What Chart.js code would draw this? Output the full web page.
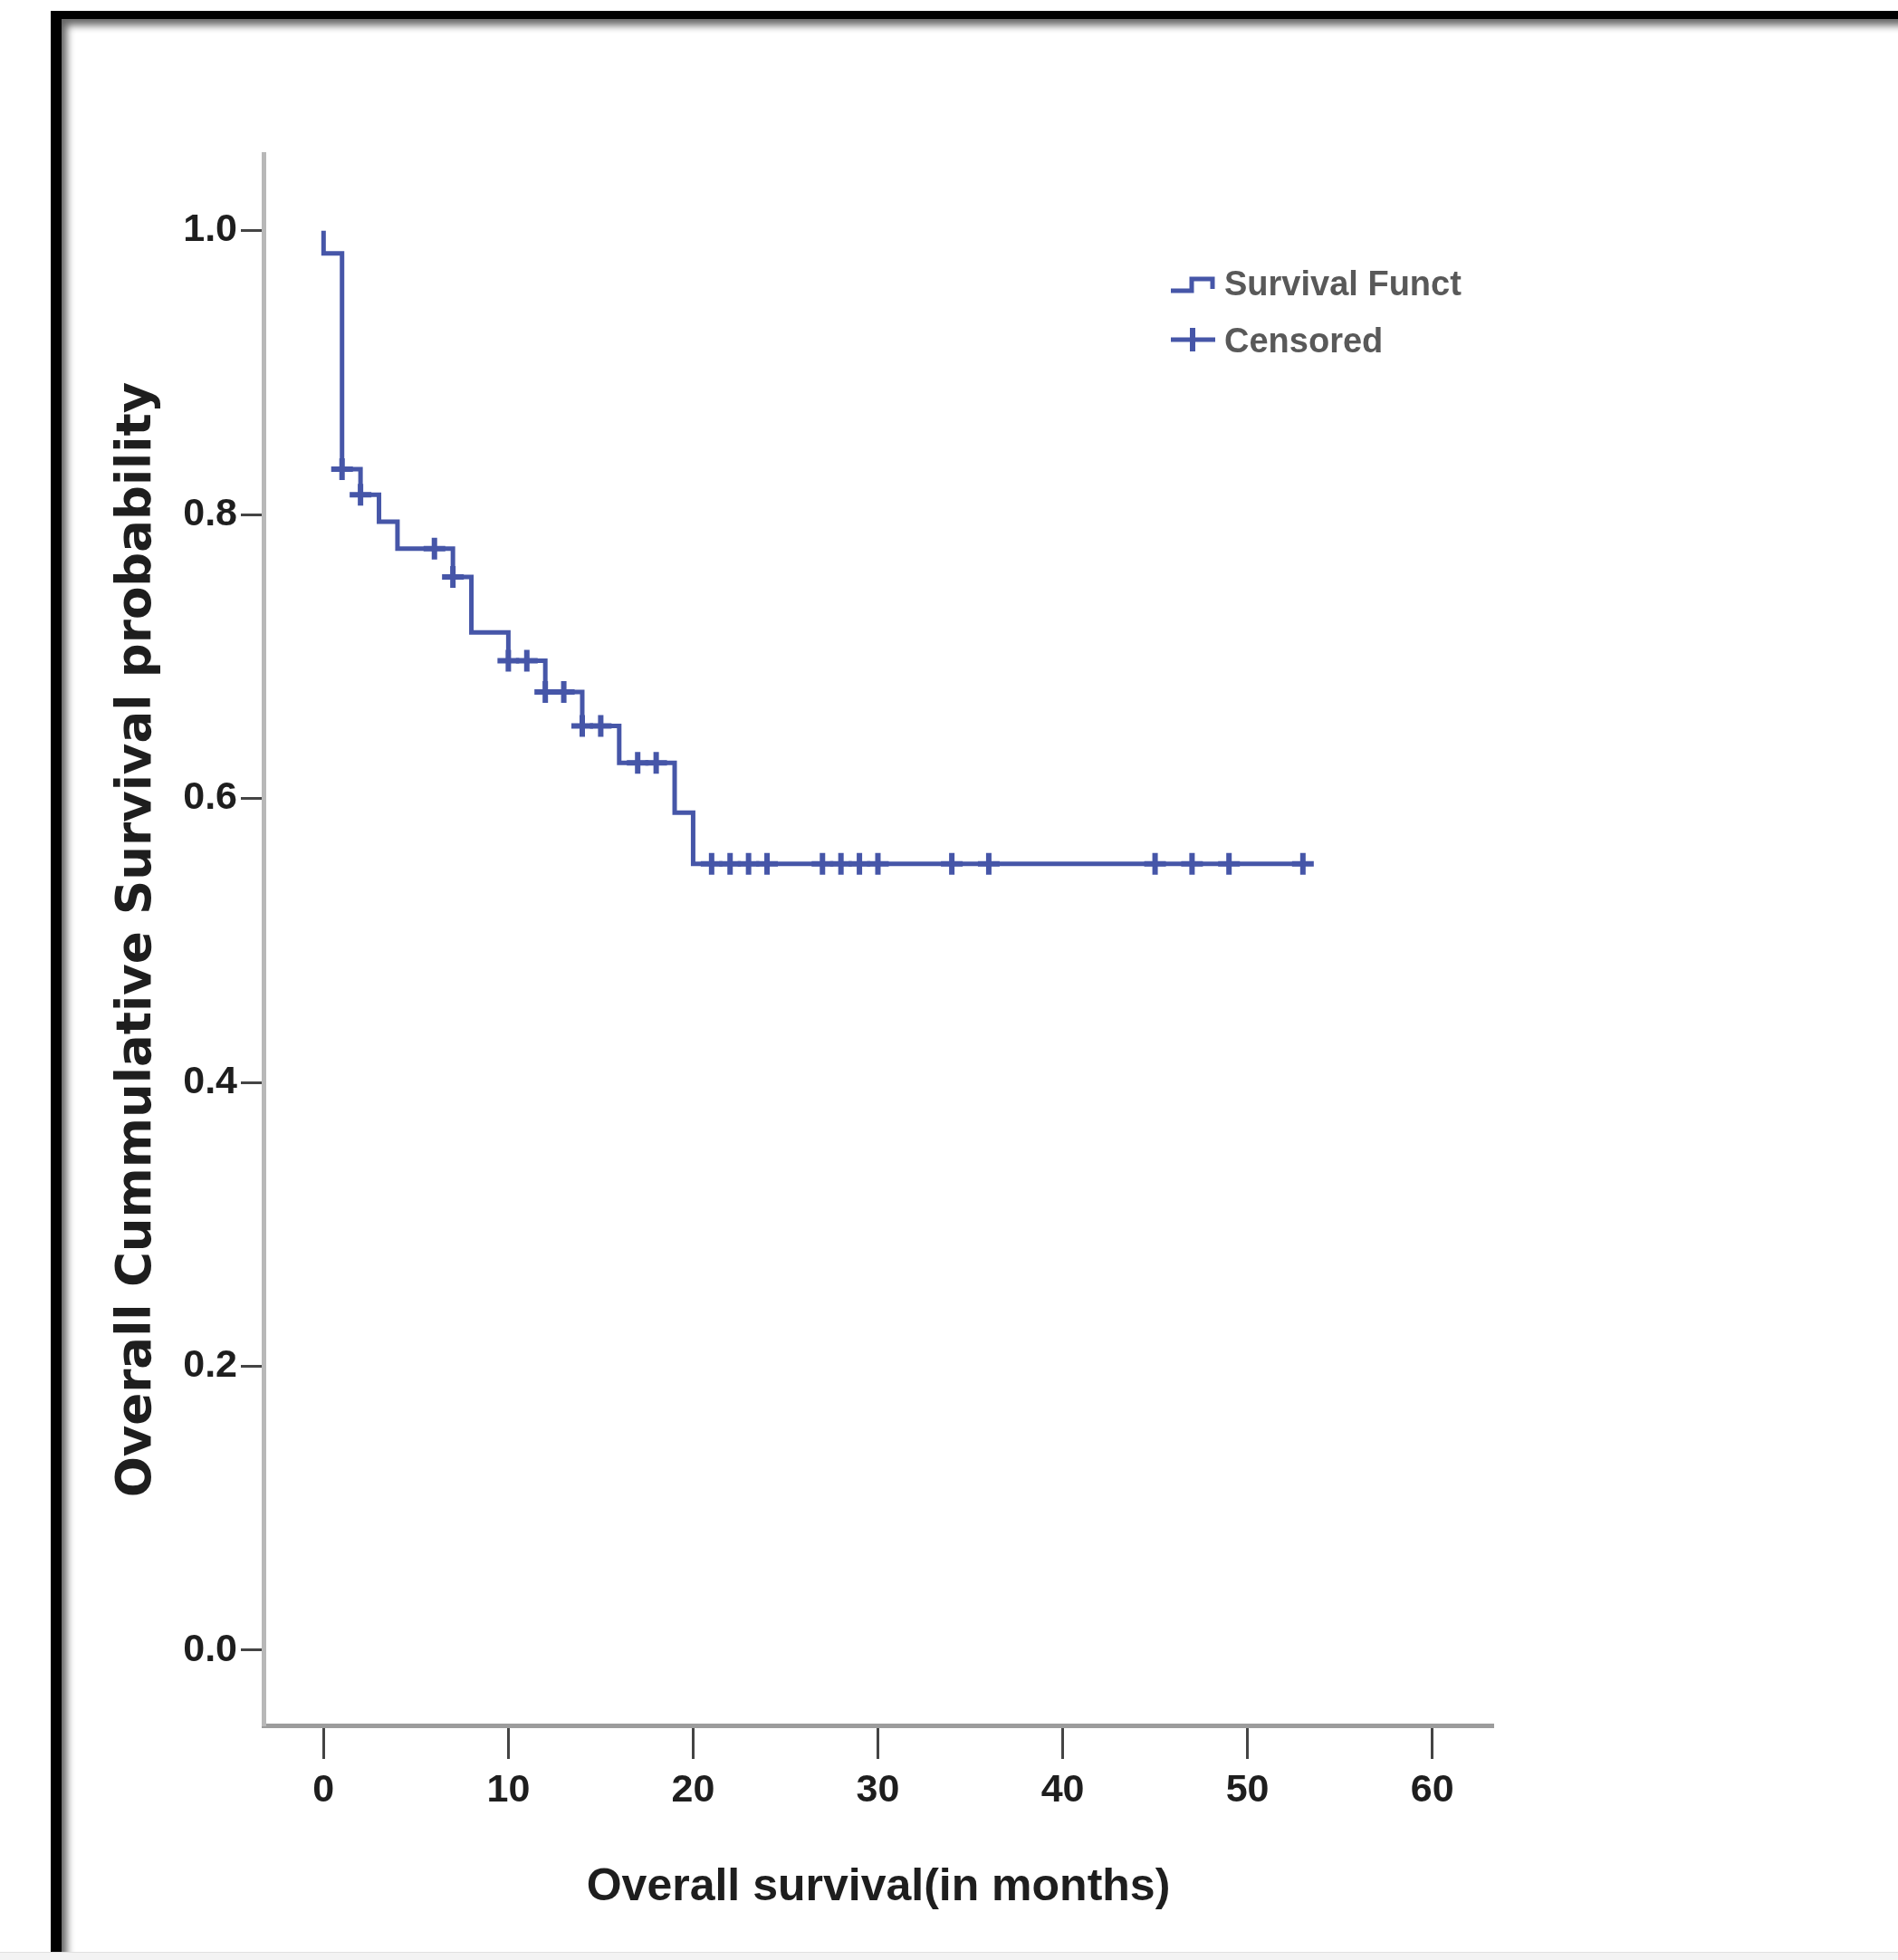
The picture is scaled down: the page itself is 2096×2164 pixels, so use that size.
<!DOCTYPE html>
<html lang="en">
<head>
<meta charset="UTF-8">
<title>Overall survival</title>
<script src="https://cdn.jsdelivr.net/npm/chart.js"></script>
<style>
  html, body { margin: 0; padding: 0; background: #fff; }
  body { width: 2096px; height: 2164px; position: relative; overflow: hidden; }
  #frame {
    position: absolute; left: 56px; top: 12px; width: 2200px; height: 2400px;
    border-left: 12px solid #000; border-top: 9px solid #000;
    box-shadow: inset 9px 10px 8px -3px rgba(0,0,0,0.6);
  }
  #bottom { position: absolute; left: 0; top: 2155px; width: 2096px; height: 9px; background: #f3f3f3; border-top: 1px solid #e0e0e0; }
  #km { position: absolute; left: 0; top: 0; }
</style>
</head>
<body>
<div id="frame"></div>
<div id="bottom"></div>
<canvas id="km" width="2096" height="2164"></canvas>
<script>
// Kaplan-Meier steps (time in months, survival after the event)
const stepTimes    = [0, 0, 1, 2, 3, 4, 7, 8, 10, 12, 14, 16, 19, 20, 53];
const stepSurvival = [1.0, 0.984, 0.832, 0.814, 0.795, 0.776, 0.756, 0.717, 0.697, 0.675, 0.651, 0.625, 0.590, 0.554, 0.554];

// censored cases (+ marks)
const censorTimes    = [1, 2, 6, 7, 10, 11, 12, 13, 14, 15, 17, 18, 21, 22, 23, 24, 27, 28, 29, 30, 34, 36, 45, 47, 49, 53];
const censorSurvival = [0.832, 0.814, 0.776, 0.756, 0.697, 0.697, 0.675, 0.675, 0.651, 0.651, 0.625, 0.625,
                        0.554, 0.554, 0.554, 0.554, 0.554, 0.554, 0.554, 0.554, 0.554, 0.554, 0.554, 0.554, 0.554, 0.554];

const xTicks = [0, 10, 20, 30, 40, 50, 60];
const yTicks = [0.0, 0.2, 0.4, 0.6, 0.8, 1.0];
const legendLabels = ['Survival Funct', 'Censored'];

const blue = '#4656a8';
const sans = "'Liberation Sans', Arial, sans-serif";

// legend drawn inside the plot, like the SPSS output
const kmLegend = {
    id: 'kmLegend',
    afterDraw(chart) {
        const ctx = chart.ctx;
        ctx.save();
        ctx.strokeStyle = blue;
        ctx.lineWidth = 5;
        // step glyph
        ctx.beginPath();
        ctx.moveTo(1293, 321);
        ctx.lineTo(1316, 321);
        ctx.lineTo(1316, 308);
        ctx.lineTo(1339, 308);
        ctx.lineTo(1339, 319);
        ctx.stroke();
        // censored glyph
        ctx.beginPath();
        ctx.moveTo(1293, 375);
        ctx.lineTo(1342, 375);
        ctx.stroke();
        ctx.lineWidth = 6;
        ctx.beginPath();
        ctx.moveTo(1317, 362);
        ctx.lineTo(1317, 388);
        ctx.stroke();

        ctx.fillStyle = '#595959';
        ctx.font = 'bold 38px ' + sans;
        ctx.textBaseline = 'middle';
        ctx.textAlign = 'left';
        ctx.fillText(legendLabels[0], 1352, 316);
        ctx.fillText(legendLabels[1], 1352, 379);
        ctx.restore();
    }
};

const ctx = document.getElementById('km').getContext('2d');
new Chart(ctx, {
    type: 'scatter',
    data: {
        datasets: [{
            label: legendLabels[0],
            data: stepTimes.map((t, i) => ({ x: t, y: stepSurvival[i] })),
            showLine: true,
            stepped: true,
            borderColor: blue,
            borderWidth: 5,
            pointRadius: 0,
            fill: false
        }, {
            label: legendLabels[1],
            data: censorTimes.map((t, i) => ({ x: t, y: censorSurvival[i] })),
            showLine: false,
            pointStyle: 'cross',
            pointRadius: 12,
            borderColor: blue,
            backgroundColor: blue,
            pointBorderWidth: 6
        }]
    },
    options: {
        responsive: false,
        animation: false,
        layout: { padding: { top: 170, right: 447, left: 0, bottom: 0 } },
        plugins: {
            legend: { display: false },
            tooltip: { enabled: false }
        },
        scales: {
            x: {
                type: 'linear',
                min: -3.25,
                max: 63.3,
                afterBuildTicks: s => { s.ticks = xTicks.map(v => ({ value: v })); },
                afterFit: s => { s.height = 259; },
                ticks: {
                    autoSkip: false,
                    maxRotation: 0,
                    padding: 9,
                    color: '#1e1e1e',
                    font: { family: sans, size: 43, weight: 'bold' }
                },
                grid: {
                    drawOnChartArea: false,
                    drawTicks: true,
                    tickLength: 37,
                    tickWidth: 3,
                    tickColor: '#444'
                },
                border: { display: true, color: '#9c9c9c', width: 5 },
                title: {
                    display: true,
                    text: 'Overall survival(in months)',
                    color: '#1e1e1e',
                    font: { family: sans, size: 50, weight: 'bold' },
                    padding: { top: 0, bottom: 50 }
                }
            },
            y: {
                type: 'linear',
                min: -0.053,
                max: 1.054,
                afterBuildTicks: s => { s.ticks = yTicks.map(v => ({ value: v })); },
                afterFit: s => { s.width = 291; },
                ticks: {
                    autoSkip: false,
                    padding: 4,
                    color: '#1e1e1e',
                    font: { family: sans, size: 43, weight: 'bold' },
                    callback: v => v.toFixed(1)
                },
                grid: {
                    drawOnChartArea: false,
                    drawTicks: true,
                    tickLength: 25,
                    tickWidth: 3,
                    tickColor: '#444'
                },
                border: { display: true, color: '#b8b8b8', width: 5 },
                title: {
                    display: true,
                    text: 'Overall Cummulative Survival probability',
                    color: '#1e1e1e',
                    font: { family: "'DejaVu Sans', Verdana, sans-serif", size: 53, weight: 'bold' },
                    padding: { top: 120, bottom: 0 }
                }
            }
        }
    },
    plugins: [kmLegend]
});
</script>
</body>
</html>
